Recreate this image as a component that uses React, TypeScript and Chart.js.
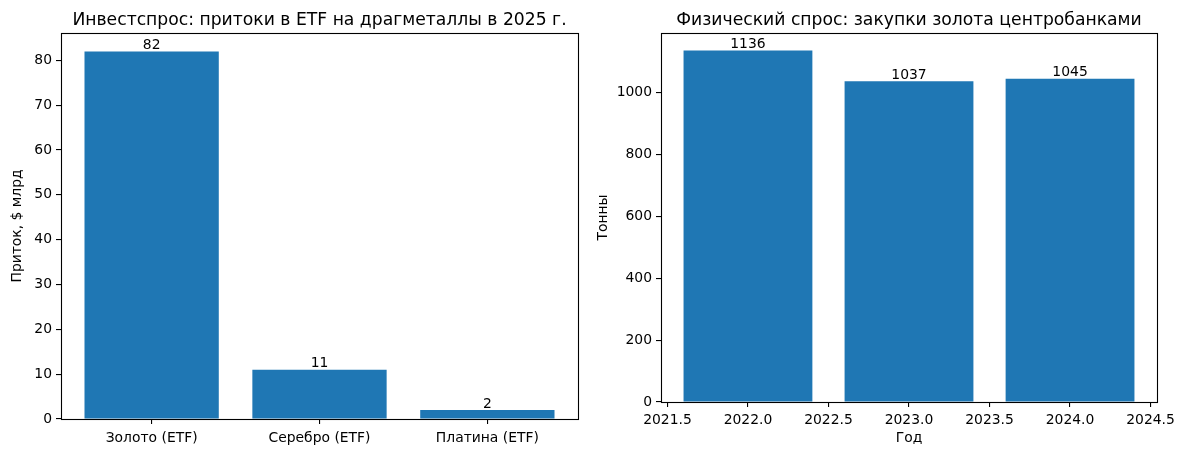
import React, { useEffect, useRef } from "react";
import { Chart, registerables } from "chart.js";
Chart.register(...registerables);

const etfCategories = ["Золото (ETF)", "Серебро (ETF)", "Платина (ETF)"];
const etfValues = [82, 11, 2];
const etfYTicks = [0, 10, 20, 30, 40, 50, 60, 70, 80];

const cbYears = [2022, 2023, 2024];
const cbValues = [1136, 1037, 1045];
const cbXTicks = [2021.5, 2022.0, 2022.5, 2023.0, 2023.5, 2024.0, 2024.5];
const cbYTicks = [0, 200, 400, 600, 800, 1000];

const FONT = "'DejaVu Sans', sans-serif";
const BLUE = "#1f77b4";

function makePlugin(title: string) {
  return {
    id: "mplDecor",
    afterDraw(chart: any) {
      const ctx = chart.ctx;
      const a = chart.chartArea;
      ctx.save();
      ctx.strokeStyle = "#000";
      ctx.lineWidth = 1.1;
      ctx.strokeRect(Math.round(a.left) + 0.5, Math.round(a.top) + 0.5, Math.round(a.right - a.left), Math.round(a.bottom - a.top));
      ctx.fillStyle = "#000";
      ctx.font = `17.2px ${FONT}`;
      ctx.textAlign = "center";
      ctx.textBaseline = "alphabetic";
      ctx.fillText(title, (a.left + a.right) / 2, a.top - 8.5);
      ctx.font = `13.9px ${FONT}`;
      ctx.textBaseline = "bottom";
      const meta = chart.getDatasetMeta(0);
      const ds = chart.data.datasets[0].data;
      meta.data.forEach((el: any, i: number) => {
        ctx.fillText(String(ds[i].y), el.x, el.y + 1);
      });
      ctx.restore();
    },
  };
}

function fixTicks(values: number[]) {
  return (scale: any) => {
    scale.ticks = values.map((v) => ({ value: v }));
  };
}

const tickFont = { family: FONT, size: 13.9 };
const tickGrid = { display: true, offset: false, drawOnChartArea: false, drawTicks: true, tickLength: 5, color: "#000", lineWidth: 1.1 };

function App() {
  const leftRef = useRef<HTMLCanvasElement>(null);
  const rightRef = useRef<HTMLCanvasElement>(null);

  useEffect(() => {
    const left = new Chart(leftRef.current!, {
      type: "bar",
      data: {
        datasets: [
          {
            data: etfValues.map((v, i) => ({ x: i, y: v })),
            backgroundColor: BLUE,
            borderWidth: 0,
            barPercentage: 0.8,
            categoryPercentage: 1,
          },
        ],
      },
      options: {
        animation: false,
        responsive: false,
        events: [],
        layout: { padding: { top: 33, right: 7, bottom: 0, left: 0 } },
        plugins: { legend: { display: false }, tooltip: { enabled: false } },
        scales: {
          x: {
            type: "linear",
            offset: false,
            min: -0.54,
            max: 2.54,
            afterBuildTicks: fixTicks([0, 1, 2]),
            afterFit: (s: any) => { s.height = 36; },
            border: { display: false },
            grid: tickGrid,
            ticks: { font: tickFont, color: "#000", padding: 6, maxRotation: 0, autoSkip: false, callback: (v: any) => etfCategories[Math.round(v)] },
          },
          y: {
            type: "linear",
            min: 0,
            max: 86.1,
            afterBuildTicks: fixTicks(etfYTicks),
            afterFit: (s: any) => { s.width = 61; },
            border: { display: false },
            grid: tickGrid,
            ticks: { font: tickFont, color: "#000", padding: 4, autoSkip: false, callback: (v: any) => String(v) },
            title: { display: true, text: "Приток, $ млрд", font: tickFont, color: "#000", padding: 9 },
          },
        },
      },
      plugins: [makePlugin("Инвестспрос: притоки в ETF на драгметаллы в 2025 г.")],
    } as any);

    const right = new Chart(rightRef.current!, {
      type: "bar",
      data: {
        datasets: [
          {
            data: cbValues.map((v, i) => ({ x: cbYears[i], y: v })),
            backgroundColor: BLUE,
            borderWidth: 0,
            barPercentage: 0.8,
            categoryPercentage: 1,
            xAxisID: "x",
          },
        ],
      },
      options: {
        animation: false,
        responsive: false,
        events: [],
        layout: { padding: { top: 33, right: 28, bottom: 0, left: 0 } },
        plugins: { legend: { display: false }, tooltip: { enabled: false } },
        scales: {
          x: {
            type: "linear",
            display: false,
            offset: false,
            min: 2021.46,
            max: 2024.54,
            afterBuildTicks: fixTicks(cbYears),
          },
          xAxis: {
            type: "linear",
            position: "bottom",
            offset: false,
            min: 2021.46,
            max: 2024.54,
            afterBuildTicks: fixTicks(cbXTicks),
            afterFit: (s: any) => { s.height = 53; },
            border: { display: false },
            grid: tickGrid,
            ticks: { font: tickFont, color: "#000", padding: 5, maxRotation: 0, autoSkip: false, callback: (v: any) => Number(v).toFixed(1) },
            title: { display: true, text: "Год", font: tickFont, color: "#000", padding: 8 },
          },
          y: {
            type: "linear",
            min: 0,
            max: 1192.8,
            afterBuildTicks: fixTicks(cbYTicks),
            afterFit: (s: any) => { s.width = 76; },
            border: { display: false },
            grid: tickGrid,
            ticks: { font: tickFont, color: "#000", padding: 4, autoSkip: false, callback: (v: any) => String(v) },
            title: { display: true, text: "Тонны", font: tickFont, color: "#000", padding: 10 },
          },
        },
      },
      plugins: [makePlugin("Физический спрос: закупки золота центробанками")],
    } as any);

    return () => {
      left.destroy();
      right.destroy();
    };
  }, []);

  return (
    <div style={{ position: "fixed", left: 0, top: 0, width: 1185, height: 455, background: "#fff" }}>
      <canvas ref={leftRef} width={585} height={455} style={{ position: "absolute", left: 0, top: 0, width: 585, height: 455 }} />
      <canvas ref={rightRef} width={600} height={455} style={{ position: "absolute", left: 585, top: 0, width: 600, height: 455 }} />
    </div>
  );
}

export default App;
